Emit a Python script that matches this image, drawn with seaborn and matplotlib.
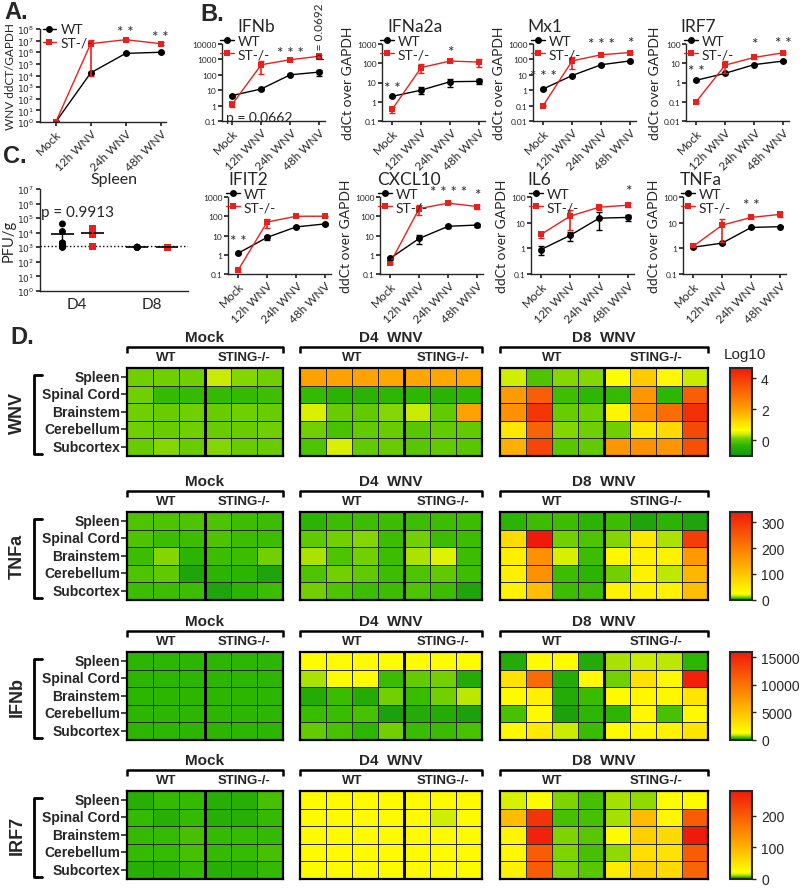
import numpy as np
import pandas as pd
import matplotlib
matplotlib.use("Agg")
import matplotlib.pyplot as plt
import seaborn as sns
from matplotlib.colors import LinearSegmentedColormap, Normalize
from matplotlib.cm import ScalarMappable
from matplotlib.ticker import FixedLocator, NullLocator, FuncFormatter

# ---------------- data ----------------
timepoints = ["Mock", "12h WNV", "24h WNV", "48h WNV"]
groups = ["WT", "ST-/-"]

# A. WNV RNA in spleen (mean, sem)
wnv_wt = [1, 1.7e4, 8e5, 1e6]
wnv_wt_err = [0, 2e3, 1e5, 1e5]
wnv_st = [1, 5.5e6, 1.2e7, 5.5e6]
wnv_st_err = [0, 5.49e6, 2e6, 1.5e6]

# B. gene expression (mean, sem)
ifnb_wt = [4.5, 12, 100, 150]
ifnb_wt_err = [0.5, 1, 8, 60]
ifnb_st = [1.2, 450, 950, 1600]
ifnb_st_err = [0.4, 340, 150, 450]

ifna2a_wt = [1.9, 4, 11, 11.5]
ifna2a_wt_err = [0.1, 1.5, 5, 3]
ifna2a_st = [0.4, 60, 130, 115]
ifna2a_st_err = [0.15, 30, 15, 50]

mx1_wt = [1.2, 9, 45, 80]
mx1_wt_err = [0.1, 1, 5, 8]
mx1_st = [0.1, 80, 200, 280]
mx1_st_err = [0.01, 55, 30, 40]

irf7_wt = [1.3, 3, 8.5, 13]
irf7_wt_err = [0.1, 0.3, 0.8, 1.5]
irf7_st = [0.1, 8, 20, 35]
irf7_st_err = [0.01, 5, 3, 5]

ifit2_wt = [1.2, 8, 28, 40]
ifit2_wt_err = [0.1, 2, 2, 4]
ifit2_st = [0.16, 50, 100, 100]
ifit2_st_err = [0.03, 25, 8, 8]

cxcl10_wt = [0.65, 7, 30, 35]
cxcl10_wt_err = [0.12, 3.5, 6, 7]
cxcl10_st = [0.37, 250, 480, 320]
cxcl10_st_err = [0.05, 130, 40, 70]

il6_wt = [0.9, 3.2, 15, 16]
il6_wt_err = [0.35, 1.2, 10, 4]
il6_st = [3.5, 18, 40, 48]
il6_st_err = [1, 13, 10, 8]

tnfa_wt = [1.1, 1.6, 6.5, 7]
tnfa_wt_err = [0.05, 0.1, 0.3, 0.3]
tnfa_st = [1.2, 8, 16, 21]
tnfa_st_err = [0.05, 6.2, 2, 5]

# significance marks: (time index, y, text)
wnv_stars = [(2, 6e7, "* *"), (3, 2.2e7, "* *")]
ifnb_stars = [(2, 2500, "* * *")]
ifna2a_stars = [(0, 5, "* *"), (2, 400, "*")]
mx1_stars = [(0, 9, "* * *"), (2, 1000, "* * *"), (3, 1200, "*")]
irf7_stars = [(0, 4, "* *"), (2, 100, "*"), (3, 110, "* *")]
ifit2_stars = [(0, 5, "* *")]
cxcl10_stars = [(2, 1800, "* * * *"), (3, 1300, "*")]
il6_stars = [(3, 170, "*")]
tnfa_stars = [(2, 48, "* *")]

# C. spleen titres (PFU/g)
days = ["D4", "D8"]
spleen_d4_wt = [4e4, 1.2e4, 2e3, 1.5e3, 1.2e3, 1e3, 1e3]
spleen_d4_st = [2e4, 1.2e4, 7e3, 1.1e3]
spleen_d8_wt = [1e3, 1e3, 1e3, 1e3, 1e3]
spleen_d8_st = [1e3, 1e3, 1e3, 1e3, 1e3]
detection_limit = 1.2e3

# D. heatmaps
tissues = ["Spleen", "Spinal Cord", "Brainstem", "Cerebellum", "Subcortex"]
block_names = ["Mock", "D4  WNV", "D8  WNV"]
block_wt_n = [3, 4, 4]
block_st_n = [3, 3, 4]

hm_wnv_mock = [[0.1, 0.1, 0.1, 0.35, 0.15, 0.1],
               [0.1, -0.25, -0.25, -0.25, -0.25, -0.2],
               [0.1, 0.05, 0.1, 0.05, 0.1, 0.05],
               [0.1, 0.05, 0.1, 0.05, 0.05, 0.1],
               [0.05, 0.15, 0.05, 0.15, 0.05, 0.05]]
hm_wnv_d4 = [[2.0, 2.0, 2.0, 1.9, 1.9, 1.9, 1.9],
             [-0.25, -0.4, -0.4, -0.35, -0.3, -0.4, -0.3],
             [0.45, 0.05, 0.0, 0.15, 0.35, 0.0, 2.0],
             [0.1, -0.15, 0.0, 0.05, -0.05, 0.0, 0.0],
             [-0.1, 0.45, 0.0, 0.05, -0.05, 0.0, -0.05]]
hm_wnv_d8 = [[0.4, -0.1, 0.15, 0.15, 0.65, 1.4, 0.75, 0.35],
             [2.1, 3.3, -0.2, -0.3, -0.25, 2.2, -0.3, 3.3],
             [2.3, 4.1, 0.05, 0.1, 0.8, 2.3, 3.0, 4.2],
             [1.0, 3.2, 0.15, 0.1, 0.1, 1.0, 1.2, 3.7],
             [1.8, 3.8, -0.05, 0.0, 2.2, 2.3, 2.2, 3.6]]

hm_tnfa_mock = [[6, 6, 6, 6, 5, 4],
                [6, 4, 4, 6, 5, 4],
                [4, 10, 3, 5, 5, 8],
                [6, 7, 2, 3, 3, 1.5],
                [4, 4, 4, 2, 3, 5]]
hm_tnfa_d4 = [[3, 4, 5, 5, 4, 4, 4],
              [7, 9, 10, 4, 8, 5, 5],
              [12, 6, 8, 5, 13, 18, 5],
              [6, 8, 7, 5, 6, 7, 4],
              [8, 6, 5, 5, 6, 4, 2]]
hm_tnfa_d8 = [[3, 5, 4, 3, 5, 2, 3, 2],
              [70, 340, 9, 6, 10, 55, 12, 290],
              [45, 170, 16, 5, 35, 40, 40, 160],
              [45, 170, 5, 3, 8, 40, 14, 120],
              [40, 110, 5, 4, 40, 40, 40, 110]]

hm_ifnb_mock = [[200, 210, 210, 210, 210, 210],
                [210, 200, 210, 200, 200, 210],
                [210, 210, 210, 210, 210, 210],
                [210, 210, 210, 210, 210, 210],
                [210, 210, 210, 210, 210, 210]]
hm_ifnb_d4 = [[1400, 1400, 1400, 1400, 1400, 1400, 1400],
              [700, 1400, 1400, 250, 450, 550, 150],
              [150, 250, 150, 550, 250, 500, 800],
              [300, 300, 350, 100, 150, 150, 120],
              [450, 350, 200, 550, 250, 250, 350]]
hm_ifnb_d8 = [[150, 1500, 1500, 150, 700, 850, 750, 200],
              [3000, 10500, 150, 1500, 500, 3000, 1600, 15500],
              [1500, 2200, 150, 300, 1500, 1700, 1700, 2800],
              [350, 1600, 100, 200, 200, 1700, 350, 1600],
              [1600, 2500, 850, 250, 1500, 1700, 2000, 2800]]

hm_irf7_mock = [[3, 4, 4, 3, 3, 5],
                [4, 2.5, 3.5, 2.5, 3, 4],
                [4, 4, 5, 4, 4, 4],
                [4, 4, 5, 4, 4, 5],
                [3, 3, 4, 3, 3, 4]]
hm_irf7_d4 = [[26, 26, 26, 26, 26, 26, 26],
              [26, 26, 26, 26, 26, 14, 26],
              [26, 26, 26, 26, 26, 26, 26],
              [26, 26, 26, 26, 26, 26, 26],
              [26, 26, 26, 26, 26, 26, 26]]
hm_irf7_d8 = [[15, 24, 8, 5, 10, 9, 24, 26],
              [90, 250, 5, 5, 10, 90, 30, 200],
              [30, 270, 8, 6, 25, 70, 60, 280],
              [30, 200, 8, 5, 9, 55, 50, 200],
              [35, 200, 8, 6, 40, 70, 60, 190]]

# colour stops (data units) for each heatmap scale
stop_colors = ["#139613", "#2fb800", "#72d000", "#c8eb00", "#ffff00", "#ffa000", "#f01a0a"]
wnv_stops = [-1.0, -0.3, 0.1, 0.35, 0.65, 2.0, 4.65]
tnfa_stops = [0, 3, 8, 14, 22, 150, 340]
ifnb_stops = [0, 200, 500, 800, 1200, 7000, 16000]
irf7_stops = [0, 3, 7, 12, 20, 120, 280]

# ---------------- figure ----------------
sns.set_theme(style="ticks")
plt.rcParams["font.family"] = ["Lato", "DejaVu Sans"]
plt.rcParams["axes.linewidth"] = 1.0

W, H = 800, 895
RED = "#e8211d"
ARIAL = ["Liberation Sans", "DejaVu Sans"]
fig = plt.figure(figsize=(W / 100, H / 100), dpi=100)

# overlay in pixel coordinates for labels and brackets
over = fig.add_axes([0, 0, 1, 1])
over.set_xlim(0, W)
over.set_ylim(H, 0)
over.axis("off")


def px_axes(x0, y0, x1, y1):
    return fig.add_axes([x0 / W, 1 - y1 / H, (x1 - x0) / W, (y1 - y0) / H])


def time_panel(ax, wt, wt_err, st, st_err, ylim, stars):
    df = pd.DataFrame({
        "time": timepoints + timepoints,
        "value": wt + st,
        "group": ["WT"] * 4 + ["ST-/-"] * 4,
    })
    ax.set_yscale("log")
    sns.lineplot(data=df, x="time", y="value", hue="group", style="group",
                 hue_order=groups, style_order=groups,
                 palette={"WT": "black", "ST-/-": RED},
                 markers={"WT": "o", "ST-/-": "s"}, dashes=False,
                 markersize=5, markeredgewidth=0, linewidth=1, ax=ax)
    ax.errorbar(range(4), wt, yerr=wt_err, fmt="none", ecolor="black",
                elinewidth=1, capsize=2)
    ax.errorbar(range(4), st, yerr=st_err, fmt="none", ecolor=RED,
                elinewidth=1.2, capsize=2)
    ax.set_ylim(*ylim)
    ax.set_xlim(-0.35, 3.2)
    lo, hi = int(round(np.log10(ylim[0]))), int(round(np.log10(ylim[1])))
    ax.yaxis.set_major_locator(FixedLocator([10.0 ** k for k in range(lo, hi + 1)]))
    ax.yaxis.set_minor_locator(NullLocator())
    ax.yaxis.set_major_formatter(FuncFormatter(lambda v, p: f"{v:g}"))
    ax.set_xticks(range(4))
    ax.set_xticklabels(timepoints, rotation=45, ha="right",
                       rotation_mode="anchor", fontsize=8.5)
    ax.tick_params(axis="y", labelsize=6, length=3, pad=1)
    ax.tick_params(axis="x", length=3, pad=1)
    ax.set_xlabel("")
    ax.set_ylabel("")
    sns.despine(ax=ax)
    sns.move_legend(ax, "upper left", bbox_to_anchor=(-0.02, 1.12), frameon=False,
                    title=None, fontsize=10, handlelength=1.0, handletextpad=0.3,
                    labelspacing=0.1, borderaxespad=0, borderpad=0)
    for x, y, s in stars:
        ax.text(x, y, s, ha="center", va="center", fontsize=11)


# ---- panel A ----
axA = px_axes(40, 30, 166, 123)
time_panel(axA, wnv_wt, wnv_wt_err, wnv_st, wnv_st_err, (1, 1e8), wnv_stars)
axA.set_xlim(-0.45, 3.15)
axA.yaxis.set_major_formatter(FuncFormatter(lambda v, p: r"$10^{%d}$" % round(np.log10(v))))
axA.tick_params(axis="y", labelsize=6.5)
axA.set_ylabel("WNV ddCT/GAPDH", fontsize=8.5, labelpad=1)
sns.move_legend(axA, "upper left", bbox_to_anchor=(0.02, 1.06), frameon=False,
                title=None, fontsize=10, handlelength=1.0, handletextpad=0.3,
                labelspacing=0.1, borderaxespad=0, borderpad=0)

# ---- panel B ----
b_panels = [
    ("IFNb", ifnb_wt, ifnb_wt_err, ifnb_st, ifnb_st_err, (0.1, 1e4), ifnb_stars, 222, 45, False, 0.15),
    ("IFNa2a", ifna2a_wt, ifna2a_wt_err, ifna2a_st, ifna2a_st_err, (0.1, 1e3), ifna2a_stars, 382, 45, True, 0.05),
    ("Mx1", mx1_wt, mx1_wt_err, mx1_st, mx1_st_err, (0.01, 1e3), mx1_stars, 533, 45, True, -0.05),
    ("IRF7", irf7_wt, irf7_wt_err, irf7_st, irf7_st_err, (0.01, 1e2), irf7_stars, 686, 45, True, -0.05),
    ("IFIT2", ifit2_wt, ifit2_wt_err, ifit2_st, ifit2_st_err, (0.1, 1e3), ifit2_stars, 228, 198, False, 0.0),
    ("CXCL10", cxcl10_wt, cxcl10_wt_err, cxcl10_st, cxcl10_st_err, (0.1, 1e3), cxcl10_stars, 380, 198, True, -0.03),
    ("IL6", il6_wt, il6_wt_err, il6_st, il6_st_err, (0.1, 1e2), il6_stars, 531, 198, True, -0.04),
    ("TNFa", tnfa_wt, tnfa_wt_err, tnfa_st, tnfa_st_err, (0.1, 1e2), tnfa_stars, 683, 198, True, -0.03),
]
for name, wt, wte, st, ste, ylim, stars, left, top, ylab, tx in b_panels:
    ax = px_axes(left, top, left + 103, top + 77)
    time_panel(ax, wt, wte, st, ste, ylim, stars)
    ax.text(tx, 1.24, name, transform=ax.transAxes, fontsize=12.5, ha="left", va="center")
    if ylab:
        ax.set_ylabel("ddCt over GAPDH", fontsize=10, labelpad=2)
    if name == "IFNb":
        ax.text(-0.2, 0.17, "p = 0.0662", fontsize=10, ha="left", va="center")
        ax.text(3.0, 0.81, "p = 0.0692", transform=ax.get_xaxis_transform(),
                rotation=90, fontsize=8.5, ha="center", va="bottom")

# ---- panel C ----
axC = px_axes(40, 190, 188, 292)
axC.set_yscale("log")
spleen = pd.DataFrame({
    "day": ["D4"] * len(spleen_d4_wt) + ["D4"] * len(spleen_d4_st)
           + ["D8"] * len(spleen_d8_wt) + ["D8"] * len(spleen_d8_st),
    "group": ["WT"] * len(spleen_d4_wt) + ["ST-/-"] * len(spleen_d4_st)
             + ["WT"] * len(spleen_d8_wt) + ["ST-/-"] * len(spleen_d8_st),
    "pfu": spleen_d4_wt + spleen_d4_st + spleen_d8_wt + spleen_d8_st,
})
for grp, mk in [("WT", "o"), ("ST-/-", "s")]:
    sns.stripplot(data=spleen[spleen.group == grp], x="day", y="pfu", hue="group",
                  order=days, hue_order=groups, dodge=True, jitter=False,
                  palette={"WT": "black", "ST-/-": RED}, marker=mk, size=5,
                  linewidth=0, legend=False, ax=axC)
summary = spleen.groupby(["day", "group"])["pfu"].agg(["mean", "sem"])
for (day, grp), row in summary.iterrows():
    xpos = days.index(day) + (-0.2 if grp == "WT" else 0.2)
    col = "black" if grp == "WT" else RED
    axC.hlines(row["mean"], xpos - 0.15, xpos + 0.15, color="black", lw=1.2, zorder=4)
    if row["sem"] > 0:
        axC.errorbar(xpos, row["mean"], yerr=row["sem"], fmt="none", ecolor=col,
                     elinewidth=1, capsize=2, zorder=4)
axC.axhline(detection_limit, ls=":", color="black", lw=1)
axC.set_ylim(1, 1e7)
axC.set_xlim(-0.5, 1.48)
axC.yaxis.set_major_locator(FixedLocator([10.0 ** k for k in range(0, 8)]))
axC.yaxis.set_minor_locator(NullLocator())
axC.yaxis.set_major_formatter(FuncFormatter(lambda v, p: r"$10^{%d}$" % round(np.log10(v))))
axC.tick_params(axis="y", labelsize=6.5, length=3, pad=1)
axC.tick_params(axis="x", labelsize=11, length=0, pad=4)
axC.set_xlabel("")
axC.set_ylabel("PFU/g", fontsize=10.5, labelpad=1)
axC.set_title("Spleen", fontsize=11.5, pad=4)
axC.text(0, 2.7e5, "p = 0.9913", ha="center", va="center", fontsize=11)
sns.despine(ax=axC)

# panel letters
for s, x, y in [("A.", 4, 12), ("B.", 200, 14), ("C.", 3, 156), ("D.", 10, 337)]:
    over.text(x, y, s, fontsize=17, fontweight="bold", ha="left", va="center", family=ARIAL)

# ---- panel D heatmaps ----
CELL_W, ROW_H = 26, 17.5
block_x0 = [127, 300, 500]

heat_sections = [
    ("WNV", 369, [hm_wnv_mock, hm_wnv_d4, hm_wnv_d8], wnv_stops, [0, 2, 4], "Log10"),
    ("TNFa", 513, [hm_tnfa_mock, hm_tnfa_d4, hm_tnfa_d8], tnfa_stops, [0, 100, 200, 300], None),
    ("IFNb", 653, [hm_ifnb_mock, hm_ifnb_d4, hm_ifnb_d8], ifnb_stops, [0, 5000, 10000, 15000], None),
    ("IRF7", 792, [hm_irf7_mock, hm_irf7_d4, hm_irf7_d8], irf7_stops, [0, 100, 200], None),
]

for gene, top, blocks, stops, cticks, ctitle in heat_sections:
    vmin, vmax = stops[0], stops[-1]
    pos = [(s - vmin) / (vmax - vmin) for s in stops]
    cmap = LinearSegmentedColormap.from_list(gene, list(zip(pos, stop_colors)))
    bottom = top + 5 * ROW_H
    for i, values in enumerate(blocks):
        n_wt, n_st = block_wt_n[i], block_st_n[i]
        x0 = block_x0[i]
        x1 = x0 + (n_wt + n_st) * CELL_W
        ax = px_axes(x0, top, x1, bottom)
        df = pd.DataFrame(values, index=tissues)
        sns.heatmap(df, ax=ax, cmap=cmap, vmin=vmin, vmax=vmax, cbar=False,
                    linewidths=0.6, linecolor="#2a2a2a", xticklabels=False,
                    yticklabels=tissues if i == 0 else False)
        ax.axvline(n_wt, color="black", lw=2.2)
        for sp in ax.spines.values():
            sp.set_visible(True)
            sp.set_linewidth(1.6)
            sp.set_color("black")
        if i == 0:
            ax.tick_params(axis="y", left=True, length=4, width=1.2, pad=1)
            for lab in ax.get_yticklabels():
                lab.set_rotation(0)
                lab.set_fontsize(10)
                lab.set_fontweight("bold")
                lab.set_family(ARIAL)
        ax.set_xlabel("")
        ax.set_ylabel("")
        # header brackets
        over.text((x0 + x1) / 2, top - 31, block_names[i], ha="center", va="center",
                  fontsize=11, fontweight="bold", family=ARIAL)
        over.plot([x0, x0, x1, x1], [top - 15, top - 21, top - 21, top - 15],
                  color="black", lw=1.8, solid_capstyle="butt")
        xm = x0 + n_wt * CELL_W
        over.text((x0 + xm) / 2, top - 11, "WT", ha="center", va="center",
                  fontsize=9.5, fontweight="bold", family=ARIAL)
        over.text((xm + x1) / 2, top - 11, "STING-/-", ha="center", va="center",
                  fontsize=9.5, fontweight="bold", family=ARIAL)
    # gene bracket
    over.plot([42, 34, 34, 42], [top + 7, top + 7, bottom - 2, bottom - 2],
              color="black", lw=2)
    over.text(17, (top + bottom) / 2, gene, rotation=90, ha="center", va="center",
              fontsize=13, fontweight="bold", family=ARIAL)
    # colour bar
    cax = px_axes(730, top, 752, bottom)
    cb = fig.colorbar(ScalarMappable(Normalize(vmin, vmax), cmap), cax=cax, ticks=cticks)
    cb.outline.set_linewidth(1.5)
    cax.tick_params(labelsize=10, length=3, width=1)
    for lab in cax.get_yticklabels():
        lab.set_family(ARIAL)
    if ctitle:
        over.text(745, top - 14, ctitle, ha="center", va="center", fontsize=11, family=ARIAL)

fig.savefig("out.png", dpi=100)
